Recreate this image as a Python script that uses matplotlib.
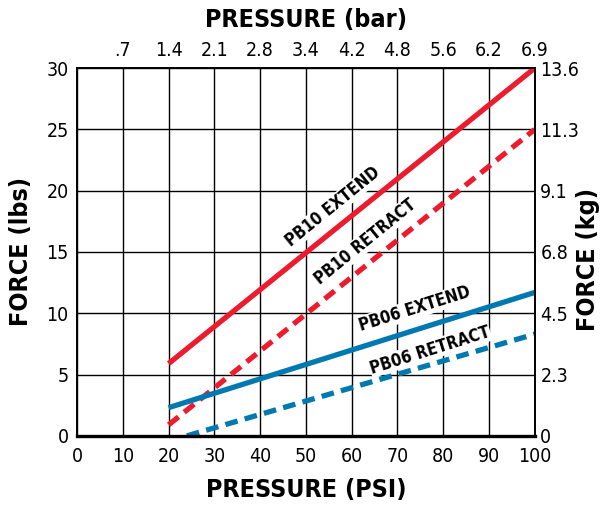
import matplotlib
matplotlib.use("Agg")
import matplotlib.pyplot as plt

# force vs pressure for the PB06 / PB10 cylinders
psi = [20, 100]
pb10_extend = [5.9, 30.0]
pb10_retract = [0.9, 25.0]
pb06_extend = [2.3, 11.7]
pb06_retract_psi = [24, 100]
pb06_retract = [0.0, 8.3]

x_ticks = [0, 10, 20, 30, 40, 50, 60, 70, 80, 90, 100]
bar_ticks = [10, 20, 30, 40, 50, 60, 70, 80, 90, 100]
bar_labels = ['.7', '1.4', '2.1', '2.8', '3.4', '4.2', '4.8', '5.6', '6.2', '6.9']
lbs_ticks = [0, 5, 10, 15, 20, 25, 30]
kg_labels = ['0', '2.3', '4.5', '6.8', '9.1', '11.3', '13.6']

plt.rcParams['font.family'] = ['DejaVu Sans']
plt.rcParams['font.stretch'] = 'condensed'

red = '#ec1c2e'
blue = '#0079b1'
lw = 3.8
tick_fs = 14
lab_fs = 18

fig = plt.figure(figsize=(6.07, 5.08), dpi=100)
ax = fig.add_axes([0.127, 0.142, 0.754, 0.724])

ax.plot(psi, pb10_extend, color=red, lw=lw, solid_capstyle='butt')
ax.plot(psi, pb10_retract, color=red, lw=lw, dashes=(2.4, 1.4))
ax.plot(psi, pb06_extend, color=blue, lw=lw, solid_capstyle='butt')
ax.plot(pb06_retract_psi, pb06_retract, color=blue, lw=lw, dashes=(2.4, 1.4))

box = dict(facecolor='white', edgecolor='none', pad=0.5)
tkw = dict(fontsize=12, fontweight='bold', ha='center', va='center', bbox=box, zorder=3)
ax.text(55.9, 18.7, 'PB10 EXTEND', rotation=39, **tkw)
ax.text(62.9, 15.8, 'PB10 RETRACT', rotation=39, **tkw)
ax.text(73.8, 10.35, 'PB06 EXTEND', rotation=17.5, **tkw)
ax.text(77.1, 7.0, 'PB06 RETRACT', rotation=17.5, **tkw)

ax.set_xlim(0, 100)
ax.set_ylim(0, 30)
ax.set_xticks(x_ticks)
ax.set_yticks(lbs_ticks)
ax.grid(True, color='black', lw=1.0)
ax.set_axisbelow(True)
ax.tick_params(axis='x', length=0, labelsize=tick_fs, pad=8)
ax.tick_params(axis='y', length=0, labelsize=tick_fs, pad=6)
for s in ax.spines.values():
    s.set_linewidth(1.4)
ax.spines['bottom'].set_linewidth(2.4)

ax.set_xlabel('PRESSURE (PSI)', fontsize=lab_fs, fontweight='bold', labelpad=9)
ax.set_ylabel('FORCE (lbs)', fontsize=lab_fs, fontweight='bold', labelpad=10)

top = ax.twiny()
top.set_xlim(0, 100)
top.set_xticks(bar_ticks)
top.set_xticklabels(bar_labels)
top.tick_params(length=0, labelsize=tick_fs, pad=6)
top.set_xlabel('PRESSURE (bar)', fontsize=lab_fs, fontweight='bold', labelpad=10)

right = ax.twinx()
right.set_ylim(0, 30)
right.set_yticks(lbs_ticks)
right.set_yticklabels(kg_labels)
right.tick_params(length=0, labelsize=tick_fs, pad=4)
fig.text(0.968, 0.49, 'FORCE (kg)', fontsize=lab_fs, fontweight='bold',
         rotation=90, ha='center', va='center')

for a in (top, right):
    for s in a.spines.values():
        s.set_visible(False)

fig.savefig('out.png', dpi=100)
